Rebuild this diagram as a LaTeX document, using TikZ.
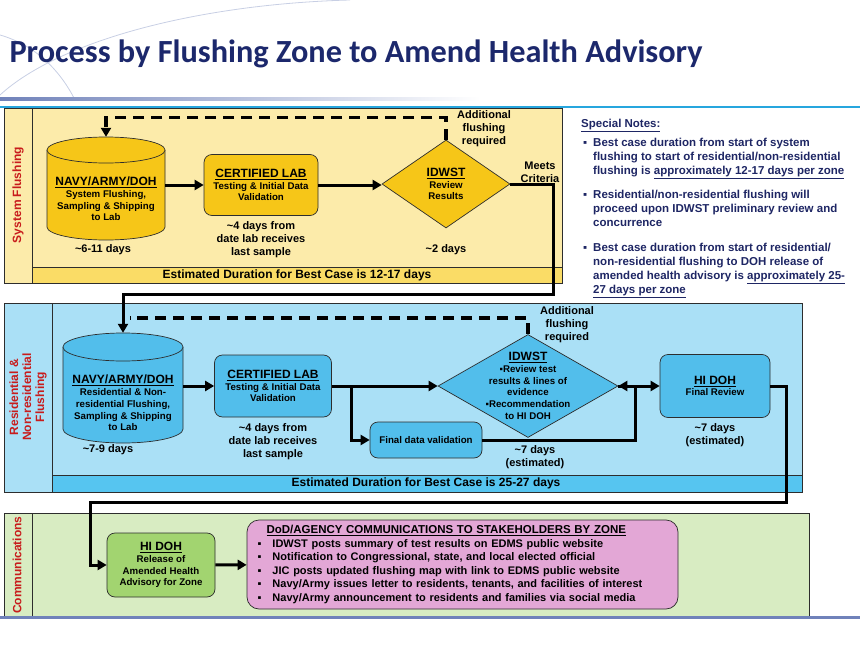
\documentclass[tikz,border=0pt]{standalone}
\usepackage{fontspec}
\setmainfont{Liberation Sans}
\newfontfamily\titlefont{Carlito}
\usepackage{tikz}
\usetikzlibrary{positioning,shapes.geometric,arrows.meta}

\definecolor{navy}{RGB}{28,40,108}
\definecolor{notecol}{RGB}{30,38,100}
\definecolor{barra}{RGB}{112,130,186}
\definecolor{ciano}{RGB}{38,166,222}
\definecolor{decoro}{RGB}{200,207,228}
\definecolor{bordo}{RGB}{45,45,45}
\definecolor{rosso}{RGB}{200,28,28}
\definecolor{gialloChiaro}{RGB}{252,235,170}
\definecolor{gialloBanda}{RGB}{250,220,102}
\definecolor{oro}{RGB}{246,198,24}
\definecolor{azzurroChiaro}{RGB}{170,224,246}
\definecolor{azzurroBanda}{RGB}{86,197,240}
\definecolor{azzurro}{RGB}{82,190,235}
\definecolor{verdeChiaro}{RGB}{216,236,194}
\definecolor{verde}{RGB}{162,212,112}
\definecolor{rosa}{RGB}{227,167,214}

\tikzset{
  corsia/.style={draw=bordo, line width=0.7pt},
  banda/.style={font=\bfseries\fontsize{12}{13}\selectfont, inner sep=0pt},
  nomecorsia/.style={rotate=90, text=rosso, align=center, font=\bfseries\fontsize{12}{13}\selectfont},
  scatola/.style={draw=bordo, line width=0.7pt, rounded corners=8pt, align=center, inner sep=0pt,
    font=\bfseries\fontsize{9.7}{11.7}\selectfont},
  bidone/.style={draw=bordo, line width=0.7pt},
  rombo/.style={diamond, draw=bordo, line width=0.7pt, inner sep=0pt},
  testo/.style={align=center, font=\bfseries\fontsize{9.7}{11.7}\selectfont},
  durata/.style={align=center, inner sep=1pt, font=\bfseries\fontsize{11}{13}\selectfont},
  freccia/.style={line width=3pt, -{Triangle[length=9pt,width=10pt]}},
  ritorno/.style={line width=3.5pt, dash pattern=on 11pt off 7pt},
}
\newcommand{\intest}[1]{{\fontsize{12}{13}\selectfont\underline{#1}}}
% cilindro: x sinistra, x destra, y alto, y basso, raggio coperchio, colore
\newcommand{\bidone}[6]{%
  \fill[#6] (#1,#3+#5) -- (#1,#4-#5) arc[start angle=180, end angle=0, x radius=(#2-#1)/2, y radius=#5]
    -- (#2,#3+#5) -- cycle;
  \draw[bidone] (#1,#3+#5) -- (#1,#4-#5) arc[start angle=180, end angle=0, x radius=(#2-#1)/2, y radius=#5]
    -- (#2,#3+#5);
  \draw[bidone, fill=#6] ({(#1+#2)/2},#3+#5) ellipse [x radius=(#2-#1)/2, y radius=#5];
}

\begin{document}
\begin{tikzpicture}[x=1pt,y=-1pt]
  \useasboundingbox (0,0) rectangle (860,645);

  % Intestazione
  \draw[decoro, line width=0.8pt] (350,0) .. controls (200,4) and (60,40) .. (0,95);
  \draw[decoro, line width=0.8pt] (0,35) .. controls (35,45) and (60,70) .. (75,100);
  \shade[left color=barra, right color=white] (0,97.5) rectangle (480,100);
  \fill[ciano] (0,105.5) rectangle (860,108);
  \node[anchor=west, text=navy, font=\titlefont\bfseries\fontsize{32.3}{36}\selectfont] (titolo) at (6,54)
    {Process by Flushing Zone to Amend Health Advisory};

  % Corsie
  \draw[corsia, fill=gialloChiaro] (4,108) rectangle (562,283);
  \draw[corsia] (32,108) -- (32,283);
  \draw[corsia, fill=gialloBanda] (32,267) rectangle (562,283);
  \node[banda] (banda1) at (297,275.5) {Estimated Duration for Best Case is 12-17 days};
  \node[nomecorsia] (corsia1) at (18,195) {System Flushing};

  \draw[corsia, fill=azzurroChiaro] (4,303) rectangle (802,492);
  \draw[corsia] (52,303) -- (52,492);
  \draw[corsia, fill=azzurroBanda] (52,475) rectangle (802,492);
  \node[banda] (banda2) at (426,483.5) {Estimated Duration for Best Case is 25-27 days};
  \node[nomecorsia] (corsia2) at (28,397) {Residential \&\\Non-residential\\Flushing};

  \draw[corsia, fill=verdeChiaro] (4,513) rectangle (809,616);
  \draw[corsia] (32,513) -- (32,616);
  \fill[barra] (0,615.5) rectangle (860,618.5);
  \node[nomecorsia] (corsia3) at (17,565) {Communications};

  % System Flushing
  \bidone{47}{165}{137}{240}{13}{oro}
  \node[testo, minimum width=118, minimum height=103, inner sep=0pt] (cil1) at (106,188.5) {};
  \node[testo] (cil1testo) at (106,199)
    {\intest{NAVY/ARMY/DOH}\\System Flushing,\\Sampling \& Shipping\\to Lab};
  \node[scatola, fill=oro, minimum width=114, minimum height=61] (lab1) at (261,185)
    {\intest{CERTIFIED LAB}\\Testing \& Initial Data\\Validation};
  \node[rombo, fill=oro, minimum width=128, minimum height=88,
    label={[testo]center:{\intest{IDWST}\\Review\\Results}}] (rombo1) at (446,184) {};

  \node[durata] (gg1) at (103,250) {\textasciitilde 6-11 days};
  \node[durata, below=4pt of lab1] (gg2) {\textasciitilde 4 days from\\date lab receives\\last sample};
  \node[durata] (gg3) at (446,250) {\textasciitilde 2 days};
  \node[durata] (agg1) at (484,129) {Additional\\flushing\\required};
  \node[durata] (criteri) at (540,172) {Meets\\Criteria};

  \draw[freccia] (cil1.east |- lab1) -- (lab1);
  \draw[freccia] (lab1.east) -- (lab1.east -| rombo1.west);
  \draw[ritorno, -{Triangle[length=9pt,width=10pt]}] (rombo1.north) -- ++(0,-22) -| (cil1.north);

  % Residential & Non-residential Flushing
  \bidone{63}{183}{333}{443}{14}{azzurro}
  \node[testo, minimum width=120, minimum height=110, inner sep=0pt] (cil2) at (123,388) {};
  \node[testo] (cil2testo) at (123,403)
    {\intest{NAVY/ARMY/DOH}\\Residential \& Non-\\residential Flushing,\\Sampling \& Shipping\\to Lab};
  \node[scatola, fill=azzurro, minimum width=117, minimum height=62] (lab2) at (273,386)
    {\intest{CERTIFIED LAB}\\Testing \& Initial Data\\Validation};
  \node[rombo, fill=azzurro, minimum width=180, minimum height=103,
    label={[testo]center:{\intest{IDWST}\\▪Review test\\results \& lines of\\evidence\\▪Recommendation\\to HI DOH}}]
    (rombo2) at (528,386) {};
  \node[scatola, fill=azzurro, minimum width=112, minimum height=36] (fin2) at (426,440) {Final data validation};
  \node[scatola, fill=azzurro, minimum width=110, minimum height=63] (hidoh2) at (715,386)
    {\intest{HI DOH}\\Final Review};

  \node[durata] (gg4) at (108,450) {\textasciitilde 7-9 days};
  \node[durata, below=5pt of lab2] (gg5) {\textasciitilde 4 days from\\date lab receives\\last sample};
  \node[durata] (gg6) at (535,457) {\textasciitilde 7 days\\(estimated)};
  \node[durata, below=4pt of hidoh2] (gg7) {\textasciitilde 7 days\\(estimated)};
  \node[durata] (agg2) at (567,325) {Additional\\flushing\\required};

  \coordinate (giro1) at (553,294);
  \draw[freccia] (rombo1.east) -| (giro1) -| (cil2.north);
  \draw[freccia] (cil2.east |- lab2) -- (lab2);
  \draw[freccia] (lab2) -- (rombo2);
  \coordinate (ramo) at (351,386);
  \draw[freccia] (ramo) |- (fin2);
  \coordinate (nodo) at (635,386);
  \draw[freccia] (fin2.east) -| (nodo) -- (rombo2.east);
  \draw[freccia] (rombo2.east) -- (hidoh2.west);
  \coordinate (rientro) at (130,318);
  \draw[ritorno] (rombo2.north) |- (rientro);

  % Communications
  \node[scatola, fill=verde, minimum width=108, minimum height=64] (rilascio) at (161,565)
    {\intest{HI DOH}\\Release of\\Amended Health\\Advisory for Zone};
  \node[scatola, fill=rosa, rounded corners=12pt, text width=410, inner xsep=10.5, minimum height=89,
    align=left, font=\bfseries\fontsize{11}{13.5}\selectfont] (comunica) at (462.5,564.5)
    {\hspace*{9pt}{\fontsize{11.5}{13.5}\selectfont\underline{DoD/AGENCY COMMUNICATIONS TO STAKEHOLDERS BY ZONE}}\\
     \makebox[15pt][l]{▪}IDWST posts summary of test results on EDMS public website\\
     \makebox[15pt][l]{▪}Notification to Congressional, state, and local elected official\\
     \makebox[15pt][l]{▪}JIC posts updated flushing map with link to EDMS public website\\
     \makebox[15pt][l]{▪}Navy/Army issues letter to residents, tenants, and facilities of interest\\
     \makebox[15pt][l]{▪}Navy/Army announcement to residents and families via social media};

  \coordinate (giro2) at (786,502);
  \coordinate (giro3) at (90,502);
  \draw[freccia] (hidoh2.east) -| (giro2) -- (giro3) |- (rilascio.west);
  \draw[freccia] (rilascio) -- (comunica);

  % Note
  \node[anchor=north west, align=left, inner sep=0pt, text=notecol,
    font=\bfseries\fontsize{11.5}{14}\selectfont] (note) at (581,118.5)
    {\underline{Special Notes:}\\[5pt]
     \hspace*{2pt}\makebox[10pt][l]{▪}Best case duration from start of system\\
     \hspace*{12pt}flushing to start of residential/non-residential\\
     \hspace*{12pt}flushing is \underline{approximately 12-17 days per zone}\\[10pt]
     \hspace*{2pt}\makebox[10pt][l]{▪}Residential/non-residential flushing will\\
     \hspace*{12pt}proceed upon IDWST preliminary review and\\
     \hspace*{12pt}concurrence\\[11pt]
     \hspace*{2pt}\makebox[10pt][l]{▪}Best case duration from start of residential/\\
     \hspace*{12pt}non-residential flushing to DOH release of\\
     \hspace*{12pt}amended health advisory is \underline{approximately 25-}\\
     \hspace*{12pt}\underline{27 days per zone}};
\end{tikzpicture}
\end{document}
